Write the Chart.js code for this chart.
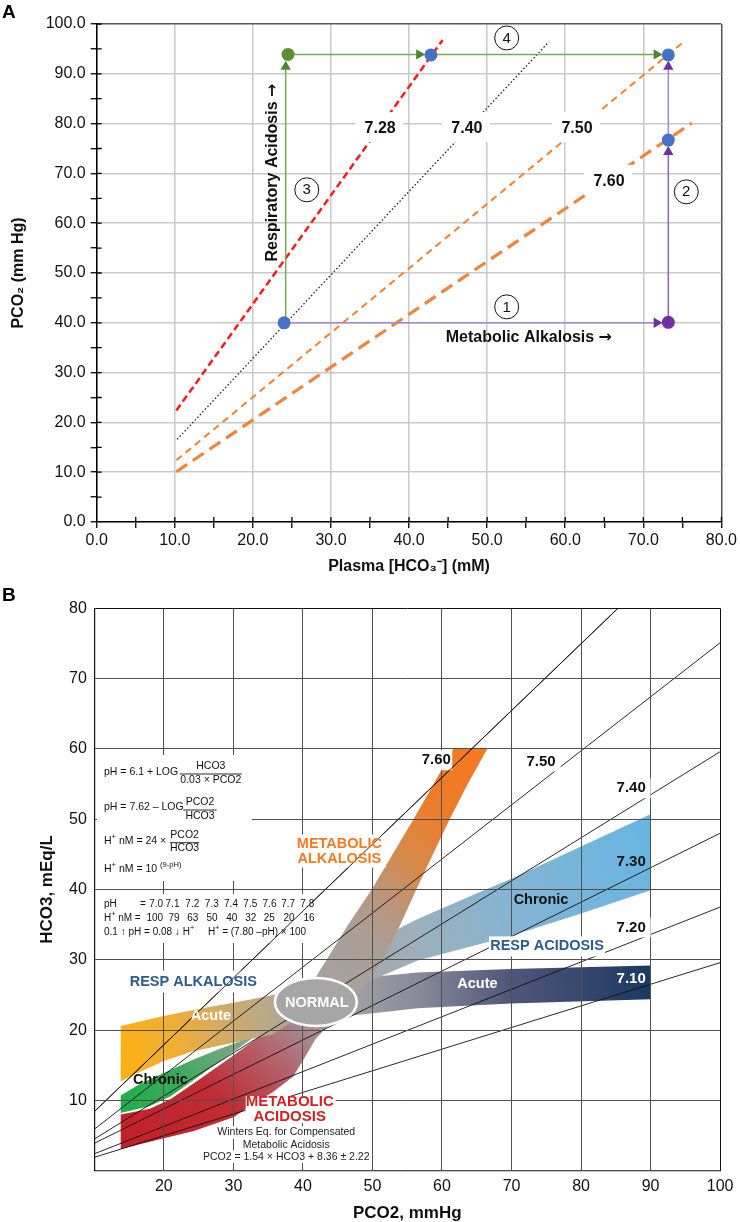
<!DOCTYPE html>
<html>
<head>
<meta charset="utf-8">
<script src="https://cdn.jsdelivr.net/npm/chart.js@4.4.1/dist/chart.umd.min.js"></script>
<style>
  html, body { margin: 0; padding: 0; background: #fff; }
  #wrapA { position: absolute; left: 0; top: 0; width: 740px; height: 580px; }
  #wrapB { position: absolute; left: 0; top: 580px; width: 740px; height: 642px; }
</style>
</head>
<body>
<div id="wrapA"><canvas id="chartA"></canvas></div>
<div id="wrapB"><canvas id="chartB"></canvas></div>
<script>
const FONT = "'Liberation Sans', Arial, Helvetica, sans-serif"
Chart.defaults.font.family = FONT
Chart.defaults.color = '#111'

// ---- panel A: x = plasma HCO3 (mM), y = PCO2 (mm Hg) ----
const isoA728 = [[10.2, 22.4], [44.3, 96.8]]
const isoA740 = [[10.3, 16.6], [57.9, 96.4]]
const isoA750 = [[10.2, 12.4], [75.3, 96.6]]
const isoA760 = [[10.2, 10.1], [76.2, 80.1]]
const isoALabels = ['7.28', '7.40', '7.50', '7.60']

const respAcidUp = [[24.2, 40], [24.2, 91.4]]
const respAcidRight1 = [[24.5, 93.9], [41.3, 93.9]]
const respAcidRight2 = [[42.8, 93.9], [71.7, 93.9]]
const metAlkRight = [[24, 40], [71.7, 40]]
const metAlkUp1 = [[73.2, 40.1], [73.2, 74.3]]
const metAlkUp2 = [[73.2, 76.7], [73.2, 91.4]]
const greenDot = [[24.5, 93.9]]
const purpleDot = [[73.2, 40.1]]
const blueDots = [[24, 40], [42.8, 93.8], [73.2, 93.8], [73.2, 76.7]]
const stepNumbers = ['1', '2', '3', '4']

// ---- panel B: x = PCO2 (mmHg), y = HCO3 (mEq/L) ----
const isoB760 = [[10, 8.4], [85.3, 80]]
const isoB750 = [[10, 5.9], [100, 75.1]]
const isoB740 = [[10, 4.5], [100, 59.6]]
const isoB730 = [[10, 3.9], [100, 48.0]]
const isoB720 = [[10, 2.4], [100, 37.5]]
const isoB710 = [[10, 1.9], [100, 29.6]]
const isoBLabels = ['7.60', '7.50', '7.40', '7.30', '7.20', '7.10']

const respAlkAcute = [[13.8, 20.6], [20, 22.0], [25, 23.0], [30, 23.9], [36.3, 25.1], [39, 25.2],
  [39, 21.6], [35.7, 19.4], [30, 18.2], [24.2, 17.0], [20, 15.6], [15.7, 13.7], [13.8, 12.7]]
const respAlkChronic = [[13.8, 10.7], [16.5, 12.3], [19.5, 13.7], [24.2, 15.8], [28, 17.3], [32.3, 18.9], [36, 20.3], [38.5, 21.4],
  [38.5, 21.8], [33.8, 19.6], [30, 16.9], [25, 13.4], [21, 10.6], [18, 9.2], [13.8, 8.2]]
const metabolicBand = [[13.8, 8.0], [18, 8.8], [21, 10.2], [25, 12.9], [30, 16.4], [33.8, 19.1], [36.5, 21], [39, 23.5],
  [41.5, 27], [43.4, 30], [46.5, 35], [49.9, 40], [52.9, 45], [55.9, 50], [58.8, 55], [61.6, 60],
  [66.5, 60], [63.7, 55], [61.1, 50], [58.7, 45], [56.3, 40], [54, 35], [52, 31], [49.5, 27], [46.5, 23.5],
  [44, 21], [41.8, 18.7], [40.2, 16], [38.6, 13.4], [35.7, 11.2], [33, 9.6], [30, 7.6], [24.2, 5.6], [20, 4.6], [13.8, 3.1]]
const respAcidChronic = [[44, 27.5], [49.9, 32.5], [56.5, 35.8], [65.1, 39.5], [69.9, 41.5], [90, 50.7],
  [90, 39.9], [80, 36.6], [69.9, 33.4], [56.5, 29.9], [51.3, 27.7], [46, 25.5]]
const respAcidAcute = [[45, 25.5], [51.3, 27.7], [56.5, 28.2], [69.9, 28.7], [90, 29.2],
  [90, 24.4], [69.9, 23.8], [56.5, 23.1], [46.5, 22.0], [44, 22.5]]

const tablePH = ['7.0', '7.1', '7.2', '7.3', '7.4', '7.5', '7.6', '7.7', '7.8']
const tableH = ['100', '79', '63', '50', '40', '32', '25', '20', '16']

const pts = a => a.map(([x, y]) => ({x, y}))

function lineDs(data, color, width, dash, extra) {
  return Object.assign({
    data: pts(data), borderColor: color, borderWidth: width, borderDash: dash || [],
    pointRadius: 0, fill: false, tension: 0, order: 2
  }, extra || {})
}

function arrowDs(data, lineColor, headColor, rot) {
  return lineDs(data, lineColor, 1.5, [], {
    order: 1, pointRadius: [0, 6], pointStyle: 'triangle', pointRotation: rot,
    pointBackgroundColor: headColor, pointBorderColor: headColor, pointBorderWidth: 0
  })
}

function dotDs(data, color) {
  return {data: pts(data), showLine: false, pointRadius: 6.5, pointBackgroundColor: color,
    pointBorderColor: color, pointBorderWidth: 0, order: 0}
}

function grad(chart, from, to, stops) {
  const {x, y} = chart.scales
  if (!chart.chartArea || !x || !y) return stops[0][1]
  const x0 = x.getPixelForValue(from[0]), y0 = y.getPixelForValue(from[1])
  const x1 = x.getPixelForValue(to[0]), y1 = y.getPixelForValue(to[1])
  if (![x0, y0, x1, y1].every(Number.isFinite)) return stops[0][1]
  const g = chart.ctx.createLinearGradient(x0, y0, x1, y1)
  stops.forEach(([o, c]) => g.addColorStop(o, c))
  return g
}

function bandDs(data, from, to, stops) {
  return {data: pts(data), fill: 'shape', backgroundColor: c => grad(c.chart, from, to, stops),
    borderColor: 'rgba(0,0,0,0)', borderWidth: 0, pointRadius: 0, tension: 0, order: 10}
}

function txt(ctx, s, x, y, size, color, weight, align) {
  ctx.font = `${weight || 'normal'} ${size}px ${FONT}`
  ctx.fillStyle = color
  ctx.textAlign = align || 'center'
  ctx.textBaseline = 'middle'
  ctx.fillText(s, x, y)
}

// bold label followed by an arrow glyph taken from DejaVu, centred on (cx, cy)
function arrowLabel(ctx, s, cx, cy, size) {
  const f1 = `bold ${size}px ${FONT}`, f2 = `bold ${size}px 'DejaVu Sans', sans-serif`
  ctx.font = f1
  const w1 = ctx.measureText(s + ' ').width
  ctx.font = f2
  const w2 = ctx.measureText('→').width
  let x0 = cx - (w1 + w2) / 2
  ctx.fillStyle = '#111'
  ctx.textAlign = 'left'
  ctx.textBaseline = 'middle'
  ctx.font = f1
  ctx.fillText(s + ' ', x0, cy)
  ctx.font = f2
  ctx.fillText('→', x0 + w1, cy)
}

function whiteBox(ctx, cx, cy, w, h) {
  ctx.fillStyle = '#fff'
  ctx.fillRect(cx - w / 2, cy - h / 2, w, h)
}

function runs(ctx, x, y, parts, size) {
  let cx = x
  ctx.textAlign = 'left'
  ctx.textBaseline = 'middle'
  ctx.fillStyle = '#111'
  for (const p of parts) {
    const sup = p.startsWith('^')
    const t = sup ? p.slice(1) : p
    ctx.font = `${sup ? size * 0.72 : size}px ${FONT}`
    ctx.fillText(t, cx, sup ? y - size * 0.4 : y)
    cx += ctx.measureText(t).width
  }
}

function frac(ctx, cx, yBar, num, den, halfW, size) {
  txt(ctx, num, cx, yBar - 7.4, size, '#111')
  txt(ctx, den, cx, yBar + 5.8, size, '#111')
  ctx.strokeStyle = '#111'
  ctx.lineWidth = 0.9
  ctx.beginPath()
  ctx.moveTo(cx - halfW, yBar)
  ctx.lineTo(cx + halfW, yBar)
  ctx.stroke()
}

// ---------------- panel A ----------------
const gridA = max => c => {
  if (!c.tick) return 'rgba(0,0,0,0)'
  const v = c.tick.value
  if (v % 10 !== 0) return 'rgba(0,0,0,0)'
  return v === max ? '#555' : '#c9c9c9'
}

const annotA = {
  id: 'annotA',
  afterDraw(chart) {
    const {ctx, scales: {x, y}} = chart
    const X = v => x.getPixelForValue(v), Y = v => y.getPixelForValue(v)
    ctx.save()
    // inner half of the axis tick marks
    ctx.strokeStyle = '#000'
    ctx.lineWidth = 1.3
    ctx.beginPath()
    for (let v = 5; v <= 100; v += 5) { ctx.moveTo(X(0), Y(v)); ctx.lineTo(X(0) + 5, Y(v)) }
    for (let v = 5; v <= 80; v += 5) { ctx.moveTo(X(v), Y(0)); ctx.lineTo(X(v), Y(0) - 5) }
    ctx.stroke()

    // pH labels on the isopleths
    const spots = [[36.3, 78.9], [47.4, 78.9], [61.5, 78.9], [65.6, 68.3]]
    isoALabels.forEach((s, i) => {
      const px = X(spots[i][0]), py = Y(spots[i][1])
      whiteBox(ctx, px - 1, py - 2, 48, 30)
      txt(ctx, s, px, py, 16, '#111', 'bold')
    })

    // numbered steps
    const circ = [[52.5, 43.2], [75.5, 66.3], [26.9, 66.7], [52.5, 97.2]]
    stepNumbers.forEach((s, i) => {
      const px = X(circ[i][0]), py = Y(circ[i][1])
      ctx.beginPath()
      ctx.arc(px, py, 12, 0, Math.PI * 2)
      ctx.fillStyle = '#fff'
      ctx.fill()
      ctx.strokeStyle = '#111'
      ctx.lineWidth = 1
      ctx.stroke()
      txt(ctx, s, px, py + 0.5, 15, '#111')
    })

    arrowLabel(ctx, 'Metabolic Alkalosis', X(55.34), Y(36.95), 16)
    ctx.save()
    ctx.translate(X(22.52), Y(70.18))
    ctx.rotate(-Math.PI / 2)
    arrowLabel(ctx, 'Respiratory Acidosis', 0, 0, 16)
    ctx.restore()

    txt(ctx, 'A', 2, 13, 19, '#000', 'bold', 'left')
    ctx.restore()
  }
}

new Chart(document.getElementById('chartA'), {
  type: 'line',
  data: {
    datasets: [
      lineDs(isoA728, '#ff1a1a', 2.5, [7, 4]),
      lineDs(isoA740, '#222', 1.3, [1.5, 2.2]),
      lineDs(isoA750, '#f4812b', 2, [7, 5]),
      lineDs(isoA760, '#f0843a', 3.2, [13, 7]),
      arrowDs(respAcidUp, '#78aa56', '#548235', 0),
      arrowDs(respAcidRight1, '#78aa56', '#548235', 90),
      arrowDs(respAcidRight2, '#78aa56', '#548235', 90),
      arrowDs(metAlkRight, '#a185d2', '#7030a0', 90),
      arrowDs(metAlkUp1, '#8a62c2', '#7030a0', 0),
      arrowDs(metAlkUp2, '#a185d2', '#7030a0', 0),
      dotDs(greenDot, '#5b8f35'),
      dotDs(purpleDot, '#7030a0'),
      dotDs(blueDots, '#4472c4')
    ]
  },
  options: {
    responsive: true,
    maintainAspectRatio: false,
    animation: false,
    layout: {padding: {top: 24, right: 17, left: 0, bottom: 0}},
    plugins: {legend: {display: false}, tooltip: {enabled: false}},
    scales: {
      x: {
        type: 'linear', min: 0, max: 80,
        ticks: {stepSize: 5, autoSkip: false, maxRotation: 0, padding: 3, font: {size: 16},
          callback: v => v % 10 === 0 ? v.toFixed(1) : ''},
        grid: {color: gridA(80), lineWidth: 1.5, tickLength: 6, tickColor: '#000', tickWidth: 1.3},
        border: {color: '#000', width: 1.5},
        title: {display: true, text: 'Plasma [HCO₃⁻] (mM)', font: {size: 16, weight: 'bold', lineHeight: 1},
          padding: {top: 0, bottom: 5}},
        afterFit: s => { s.height = 58 }
      },
      y: {
        min: 0, max: 100,
        ticks: {stepSize: 5, autoSkip: false, padding: 5, font: {size: 16},
          callback: v => v % 10 === 0 ? v.toFixed(1) : ''},
        grid: {color: gridA(100), lineWidth: 1.5, tickLength: 6, tickColor: '#000', tickWidth: 1.3},
        border: {color: '#000', width: 1.5},
        title: {display: true, text: 'PCO₂ (mm Hg)', font: {size: 16, weight: 'bold', lineHeight: 1},
          padding: {top: 11, bottom: 0}},
        afterFit: s => { s.width = 96.7 }
      }
    }
  },
  plugins: [annotA]
})

// ---------------- panel B ----------------
const annotB = {
  id: 'annotB',
  afterDraw(chart) {
    const {ctx, chartArea: area, scales: {x, y}} = chart
    const X = v => x.getPixelForValue(v), Y = v => y.getPixelForValue(v)
    const L = area.left, T = area.top
    ctx.save()

    // white panels behind the text blocks
    ctx.fillStyle = '#fff'
    ctx.fillRect(L + 2.7, T + 146.7, 155, 126)     // equations
    ctx.fillRect(L + 2.7, T + 285.7, 215, 49)      // pH / H+ table
    whiteBox(ctx, X(45.24), Y(45.46), 93, 33)       // METABOLIC ALKALOSIS
    whiteBox(ctx, X(24.24), Y(26.9), 135, 22)       // RESP ALKALOSIS
    whiteBox(ctx, X(75.1), Y(31.9), 116, 20)        // RESP ACIDOSIS
    whiteBox(ctx, X(38.1) + 1, Y(8.7), 90, 27)      // METABOLIC ACIDOSIS
    whiteBox(ctx, X(37.6), Y(5.43), 140, 12.5)      // Winters, line by line
    whiteBox(ctx, X(37.6), Y(3.67), 94, 12.5)
    whiteBox(ctx, X(37.6), Y(2.0), 170, 12.5)
    const spots = [[59.17, 58.39], [74.24, 58.2], [87.2, 54.4], [87.2, 43.9], [87.2, 34.6], [87.2, 27.35]]
    whiteBox(ctx, X(spots[0][0]), Y(spots[0][1]), 32, 20)
    ;[1, 2, 4].forEach(i => whiteBox(ctx, X(spots[i][0]) + 1, Y(spots[i][1]), 37, 20))

    // the 7.60 isopleth runs over the text panels
    ctx.save()
    ctx.beginPath()
    ctx.rect(area.left, area.top, area.right - area.left, area.bottom - area.top)
    ctx.clip()
    chart.getDatasetMeta(0).dataset.draw(ctx, area)
    ctx.restore()

    // equations
    const fs = 10.5
    runs(ctx, L + 9.7, T + 163.4, ['pH = 6.1 + LOG'], fs)
    frac(ctx, L + 116.5, T + 165.7, 'HCO3', '0.03 × PCO2', 31, fs)
    runs(ctx, L + 9.7, T + 198.7, ['pH = 7.62 – LOG'], fs)
    frac(ctx, L + 105.7, T + 201.7, 'PCO2', 'HCO3', 16.7, fs)
    runs(ctx, L + 9.7, T + 232.5, ['H', '^+', ' nM = 24 ×'], fs)
    frac(ctx, L + 90.3, T + 234.4, 'PCO2', 'HCO3', 14.5, fs)
    runs(ctx, L + 9.7, T + 261.2, ['H', '^+', ' nM = 10 ', '^(9-pH)'], fs)

    // table
    const ts = 10
    const cols1 = [156.2, 172.5, 192.3, 211.8, 231, 250.3, 269.5, 288.2, 307.3]
    const cols2 = [154.8, 174, 192.7, 212, 231.7, 250.7, 269.3, 289, 309]
    runs(ctx, L + 9.7, T + 295.9, ['pH'], ts)
    runs(ctx, 140, T + 295.9, ['='], ts)
    tablePH.forEach((s, i) => txt(ctx, s, cols1[i], T + 295.9, ts, '#111'))
    runs(ctx, L + 9.7, T + 310, ['H', '^+', ' nM ='], ts)
    tableH.forEach((s, i) => txt(ctx, s, cols2[i], T + 310, ts, '#111'))
    runs(ctx, L + 9.7, T + 324.2, ['0.1 ↑ pH = 0.08 ↓ H', '^+', '     H', '^+', ' = (7.80 –pH) × 100'], ts)

    // region names
    txt(ctx, 'METABOLIC', X(45.24), Y(46.53), 14.5, '#f47b20', 'bold')
    txt(ctx, 'ALKALOSIS', X(45.24), Y(44.39), 14.5, '#f47b20', 'bold')
    txt(ctx, 'RESP ALKALOSIS', X(24.24), Y(26.9), 14.5, '#2d5c8c', 'bold')
    txt(ctx, 'Acute', X(26.77), Y(22.0), 14.5, '#fff', 'bold')
    txt(ctx, 'Chronic', X(19.5), Y(12.96), 14.5, '#111', 'bold')
    txt(ctx, 'RESP ACIDOSIS', X(75.1), Y(31.9), 14.5, '#2d5c8c', 'bold')
    txt(ctx, 'Chronic', X(74.24), Y(38.53), 14.5, '#111', 'bold')
    txt(ctx, 'Acute', X(65.1), Y(26.53), 14.5, '#fff', 'bold')
    txt(ctx, 'METABOLIC', X(38.1), Y(9.86), 15, '#d42027', 'bold')
    txt(ctx, 'ACIDOSIS', X(38.1), Y(7.63), 15, '#d42027', 'bold')
    txt(ctx, 'Winters Eq. for Compensated', X(37.6), Y(5.43), 10.5, '#222')
    txt(ctx, 'Metabolic Acidosis', X(37.6), Y(3.67), 10.5, '#222')
    txt(ctx, 'PCO2 = 1.54 × HCO3 + 8.36 ± 2.22', X(37.6), Y(2.0), 10.5, '#222')

    // pH labels
    isoBLabels.forEach((s, i) => txt(ctx, s, X(spots[i][0]), Y(spots[i][1]), 15,
      i === 5 ? '#fff' : '#111', 'bold'))

    // NORMAL
    ctx.beginPath()
    ctx.ellipse(X(41.86), Y(24.0), 41, 24, 0, 0, Math.PI * 2)
    ctx.fillStyle = '#a6a6a6'
    ctx.fill()
    ctx.strokeStyle = '#fff'
    ctx.lineWidth = 2.5
    ctx.stroke()
    txt(ctx, 'NORMAL', X(41.86) + 1, Y(24.0) + 1.3, 14.5, '#fff', 'bold')

    txt(ctx, 'B', 2, 16, 19, '#000', 'bold', 'left')
    ctx.restore()
  }
}

new Chart(document.getElementById('chartB'), {
  type: 'line',
  data: {
    datasets: [
      lineDs(isoB760, '#111', 0.9, [], {order: 1}),
      lineDs(isoB750, '#111', 0.9, [], {order: 1}),
      lineDs(isoB740, '#111', 0.9, [], {order: 1}),
      lineDs(isoB730, '#111', 0.9, [], {order: 1}),
      lineDs(isoB720, '#111', 0.9, [], {order: 1}),
      lineDs(isoB710, '#111', 0.9, [], {order: 1}),
      bandDs(respAlkAcute, [14, 18], [39, 22],
        [[0, '#fbb116'], [0.3, '#f0ae33'], [0.65, '#cdaa6e'], [1, '#a9a6a0']]),
      bandDs(respAlkChronic, [14, 10], [36, 19],
        [[0, '#1faf4b'], [0.35, '#3aaa5a'], [0.75, '#7aa585'], [1, '#a3a7a4']]),
      bandDs(metabolicBand, [14, 5], [64, 60],
        [[0, '#c4202a'], [0.18, '#c02c33'], [0.3, '#b4606a'], [0.39, '#a78c92'], [0.45, '#a6a3a3'],
         [0.6, '#ab9e96'], [0.68, '#bd9479'], [0.76, '#d68a4c'], [0.86, '#ec7d2c'], [1, '#f47920']]),
      bandDs(respAcidChronic, [45, 30], [90, 45],
        [[0, '#a6a6a6'], [0.26, '#9cb0bd'], [0.56, '#84b4d3'], [1, '#68b5e2']]),
      bandDs(respAcidAcute, [45, 25], [90, 27],
        [[0, '#a6a6a6'], [0.25, '#8a8a9a'], [0.55, '#4f5779'], [1, '#1c3960']])
    ]
  },
  options: {
    responsive: true,
    maintainAspectRatio: false,
    animation: false,
    layout: {padding: {top: 28.3, right: 16.7, left: 0, bottom: 0}},
    plugins: {legend: {display: false}, tooltip: {enabled: false}},
    scales: {
      x: {
        type: 'linear', min: 10, max: 100,
        ticks: {stepSize: 10, autoSkip: false, maxRotation: 0, padding: 6.5, font: {size: 16},
          callback: v => v === 10 ? '' : v},
        grid: {color: c => c.tick && c.tick.value === 100 ? '#111' : '#505050', lineWidth: 1, drawTicks: false, z: 1},
        border: {color: '#111', width: 1.2, z: 1},
        title: {display: true, text: 'PCO2, mmHg', font: {size: 17, weight: 'bold', lineHeight: 1},
          padding: {top: 0, bottom: 0.5}},
        afterFit: s => { s.height = 51.3 }
      },
      y: {
        min: 0, max: 80,
        ticks: {stepSize: 10, autoSkip: false, padding: 7.5, font: {size: 16},
          callback: v => v === 0 ? '' : v},
        grid: {color: c => c.tick && c.tick.value === 80 ? '#111' : '#505050', lineWidth: 1, drawTicks: false, z: 1},
        border: {color: '#111', width: 1.2, z: 1},
        title: {display: true, text: 'HCO3, mEq/L', font: {size: 17, weight: 'bold', lineHeight: 1},
          padding: {top: 39, bottom: 0}},
        afterFit: s => { s.width = 94.3 }
      }
    }
  },
  plugins: [annotB]
})
</script>
</body>
</html>
